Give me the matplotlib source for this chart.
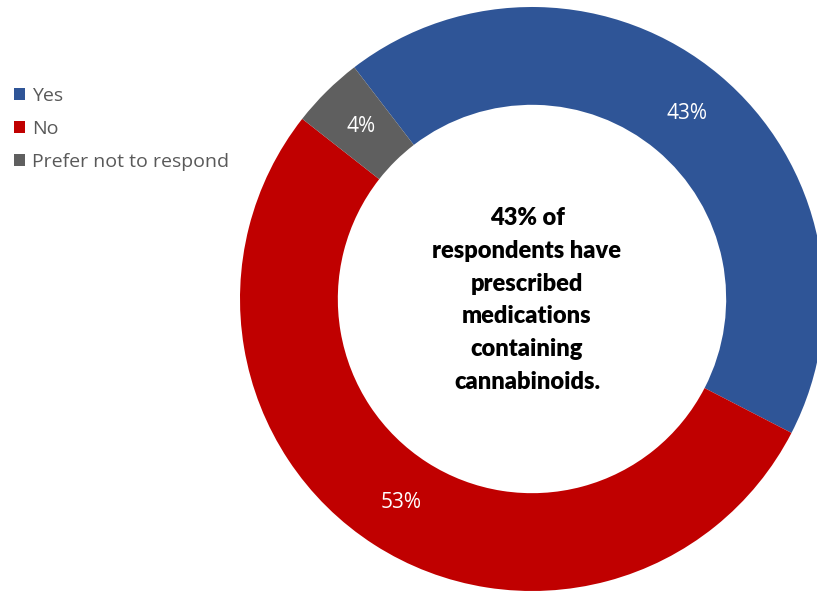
import matplotlib.pyplot as plt

# Survey answers
labels = ['Yes', 'No', 'Prefer not to respond']
values = [43, 53, 4]
colors = ['#2F5597', '#C00000', '#5F5F5F']
center_text = '43% of\nrespondents have\nprescribed\nmedications\ncontaining\ncannabinoids.'

W, H = 817, 592
fig = plt.figure(figsize=(W / 100, H / 100), dpi=100)
ax = fig.add_axes([0, 0, 1, 1])

cx, cy, r = 532, H - 299, 292
total = sum(values)
wedges, texts, autotexts = ax.pie(
    values, colors=colors, startangle=127.5, counterclock=False,
    center=(cx, cy), radius=r,
    wedgeprops=dict(width=r * 0.335, linewidth=0),
    autopct=lambda p: '%d%%' % round(p * total / 100), pctdistance=0.83,
    textprops=dict(color='white', fontsize=15, family='Open Sans'))

ax.set_xlim(0, W)
ax.set_ylim(0, H)
ax.set_aspect('equal')
ax.axis('off')

# Text in the hole
ax.text(cx - 5, cy - 1, center_text, ha='center', va='center', fontsize=17,
        fontweight='heavy', family='Lato', color='black', linespacing=1.6)

# Legend at the upper left
leg = ax.legend(wedges, labels, loc='upper left', bbox_to_anchor=(0.0, 1 - 73 / H),
                frameon=False, handlelength=0.6, handleheight=0.6,
                handletextpad=0.35, labelspacing=0.78, borderaxespad=0.3,
                prop=dict(family='Open Sans', size=14))
for t in leg.get_texts():
    t.set_color('#595959')

plt.savefig('out.png', dpi=100)
